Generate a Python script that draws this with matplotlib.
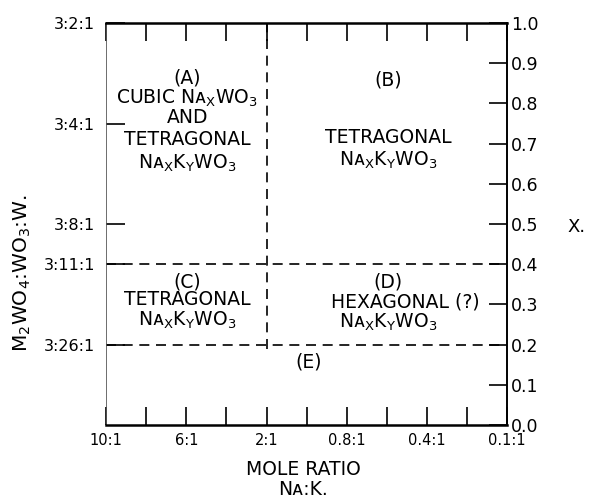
# Phase diagram of Na-K tungsten bronzes (recreated from a scanned figure)

import matplotlib
matplotlib.use('Agg')
import matplotlib.pyplot as plt

plt.rcParams['font.family'] = ['DejaVu Sans', 'Noto Sans']

# bottom axis: Na:K mole ratio, evenly spaced positions
ratio_pos = [0, 2, 4, 6, 8, 10]
ratio_labels = ['10:1', '6:1', '2:1', '0.8:1', '0.4:1', '0.1:1']
minor_pos = [1, 3, 5, 7, 9]

# left axis: M2WO4:WO3:W composition, placed on x scale
comp_pos = [1.0, 0.75, 0.5, 0.4, 0.2]
comp_labels = ['3:2:1', '3:4:1', '3:8:1', '3:11:1', '3:26:1']

# right axis: x
x_ticks = [0.0, 0.1, 0.2, 0.3, 0.4, 0.5, 0.6, 0.7, 0.8, 0.9, 1.0]

# phase boundaries
bound_x = 4          # 2:1 ratio
bound_y = [0.4, 0.2]  # x values

nakwo = r'Nᴀ$_\mathregular{X}$K$_\mathregular{Y}$WO$_\mathregular{3}$'
nawo = r'Nᴀ$_\mathregular{X}$WO$_\mathregular{3}$'
regions = [
    (2.02, 0.862, '(A)'), (2.02, 0.813, 'CUBIC ' + nawo), (2.02, 0.766, 'AND'),
    (2.02, 0.709, 'TETRAGONAL'), (2.02, 0.652, nakwo),
    (7.03, 0.858, '(B)'), (7.03, 0.714, 'TETRAGONAL'), (7.03, 0.659, nakwo),
    (2.02, 0.356, '(C)'), (2.02, 0.311, 'TETRAGONAL'), (2.02, 0.261, nakwo),
    (7.03, 0.356, '(D)'), (7.46, 0.306, 'HEXAGONAL (?)'), (7.03, 0.256, nakwo),
    (5.04, 0.157, '(E)'),
]

fig = plt.figure(figsize=(5.96, 4.98), dpi=100)
ax = fig.add_axes([0.178, 0.1466, 0.673, 0.8072])
ax.set_xlim(0, 10)
ax.set_ylim(0, 1)

for s in ['top', 'bottom']:
    ax.spines[s].set_linewidth(1.8)
ax.spines['right'].set_linewidth(1.4)
ax.spines['left'].set_linewidth(0.6)
ax.spines['left'].set_color('#555555')

ax.set_xticks(ratio_pos, ratio_labels)
ax.set_xticks(minor_pos, minor=True)
ax.tick_params(axis='x', which='both', direction='in', length=13, width=1.2,
               top=True, labeltop=False, labelsize=10.5, pad=6)

ax.set_yticks(comp_pos, comp_labels)
ax.tick_params(axis='y', direction='in', length=14, width=1.2, labelsize=11.5, pad=8)

ax2 = ax.twinx()
ax2.set_ylim(0, 1)
ax2.set_yticks(x_ticks, ['%.1f' % v for v in x_ticks])
ax2.tick_params(axis='y', direction='in', length=13, width=1.2, labelsize=12.5, pad=3)
for s in ax2.spines.values():
    s.set_visible(False)

dash = dict(color='black', lw=1.2, ls=(0, (6, 4)))
ax.plot([bound_x, bound_x], [bound_y[1] - 0.01, 1.0], **dash)
for yv in bound_y:
    ax.plot([0, 10], [yv, yv], **dash)

for xv, yv, t in regions:
    ax.text(xv, yv, t, ha='center', va='center', fontsize=13.5)

fig.text(22 / 596, 1 - 273 / 498,
         r'M$_\mathregular{2}$WO$_\mathregular{4}$:WO$_\mathregular{3}$:W.',
         rotation=90, ha='center', va='center', fontsize=14.5)
fig.text(577 / 596, 1 - 227 / 498, 'X.', ha='center', va='center', fontsize=13)
fig.text(303 / 596, 1 - 469 / 498, 'MOLE RATIO', ha='center', va='center', fontsize=13.5)
fig.text(303 / 596, 1 - 489 / 498, 'Nᴀ:K.', ha='center', va='center', fontsize=13.5)

fig.savefig('out.png', dpi=100)
